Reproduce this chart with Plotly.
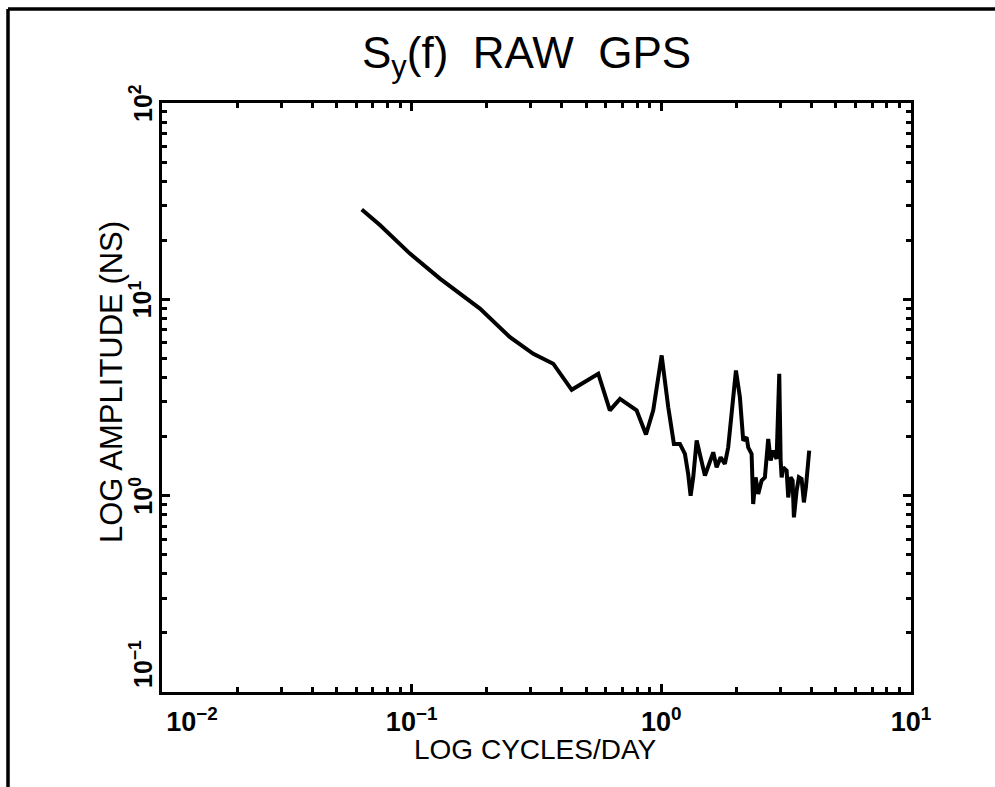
import math
import plotly.graph_objects as go

# Frequency (cycles/day) and amplitude (ns)
freq = [0.0631, 0.0746, 0.0984, 0.1298, 0.1877, 0.2476, 0.307, 0.369, 0.4375, 0.559,
        0.622, 0.683, 0.796, 0.868, 0.928, 1.003, 1.066, 1.123, 1.187, 1.243,
        1.281, 1.310, 1.342, 1.385, 1.495, 1.614, 1.665, 1.728, 1.797, 1.853,
        1.990, 2.064, 2.128, 2.196, 2.228, 2.299, 2.333, 2.386, 2.444, 2.522,
        2.599, 2.680, 2.740, 2.806, 2.895, 2.967, 3.005, 3.033, 3.078, 3.176,
        3.223, 3.295, 3.356, 3.396, 3.482, 3.557, 3.646, 3.724, 3.794, 3.911]
amp = [28.7, 23.9, 17.1, 12.75, 8.97, 6.42, 5.28, 4.70, 3.46, 4.18,
       2.72, 3.11, 2.72, 2.05, 2.72, 5.18, 2.82, 1.835, 1.835, 1.632,
       1.290, 1.00, 1.240, 1.909, 1.265, 1.663, 1.394, 1.568, 1.451, 1.763,
       4.34, 3.17, 1.909, 1.983, 1.763, 1.632, 0.907, 1.240, 1.020, 1.193,
       1.240, 1.946, 1.509, 1.696, 1.539, 4.18, 1.509, 1.240, 1.394, 1.342,
       0.980, 1.240, 1.193, 0.775, 1.060, 1.240, 1.217, 0.924, 1.102, 1.696]

x_major = [0.01, 0.1, 1, 10]
x_major_text = ["        <b>10<sup>−2</sup></b>", "<b>10<sup>−1</sup></b>",
                "<b>10<sup>0</sup></b>", "<b>10<sup>1</sup></b>"]
y_major = [0.1, 1, 10, 100]
y_major_text = ["<b>10<sup>−1</sup></b>", "<b>10<sup>0</sup></b>",
                "<b>10<sup>1</sup></b>", "<b>10<sup>2</sup></b>"]
y_label_shift = [28, 0, 0, 0]

title_text = "S<sub>y</sub>(f)  RAW  GPS"
x_title = "LOG CYCLES/DAY"
y_title = "LOG AMPLITUDE (NS)"


def minor_vals(lo_exp, hi_exp):
    vals = []
    for e in range(lo_exp, hi_exp):
        for m in range(2, 10):
            vals.append(m * 10 ** e)
    return vals


FONT = "Liberation Sans, Arial, sans-serif"

fig = go.Figure()
fig.add_trace(go.Scatter(x=freq, y=amp, mode="lines",
                         line=dict(color="black", width=4),
                         showlegend=False, hoverinfo="x+y"))

axis_common = dict(type="log", showgrid=False, zeroline=False,
                   showline=True, linecolor="black", linewidth=3,
                   mirror="allticks", ticks="inside", ticklen=8, tickwidth=2.5,
                   tickcolor="black", tickmode="array")

fig.update_xaxes(**axis_common, range=[-2, 1], tickvals=x_major, ticktext=x_major_text,
                 ticklabelstandoff=4,
                 tickfont=dict(family=FONT, size=27, color="black"),
                 minor=dict(tickmode="array", tickvals=minor_vals(-2, 1), ticks="inside",
                            ticklen=5, tickwidth=2.5, tickcolor="black"))
fig.update_yaxes(**axis_common, range=[-1, 2], tickvals=y_major, showticklabels=False,
                 minor=dict(tickmode="array", tickvals=minor_vals(-1, 2), ticks="inside",
                            ticklen=5, tickwidth=2.5, tickcolor="black"))

# outer page frame lines (left and top)
W, H = 995, 787
L, R, T, B = 162, 84, 103, 95
pw, ph = W - L - R, H - T - B


def px(x):
    return (x - L) / pw


def py(y):
    return (H - B - y) / ph


fig.add_shape(type="line", xref="paper", yref="paper", x0=px(8), x1=px(8), y0=py(9), y1=py(787),
              line=dict(color="black", width=3.5))
fig.add_shape(type="line", xref="paper", yref="paper", x0=px(8), x1=px(995), y0=py(9), y1=py(9),
              line=dict(color="black", width=3.5))

# rotated y tick labels
for v, t, s in zip(y_major, y_major_text, y_label_shift):
    fig.add_annotation(text=t, xref="paper", yref="y", x=px(141), y=math.log10(v),
                       yshift=s, textangle=-90, showarrow=False,
                       font=dict(family=FONT, size=25, color="black"),
                       xanchor="center", yanchor="middle")

fig.add_annotation(text=title_text, xref="paper", yref="paper", x=px(526), y=py(56),
                   showarrow=False, font=dict(family=FONT, size=44, color="black"),
                   xanchor="center", yanchor="middle")
fig.add_annotation(text=x_title, xref="paper", yref="paper", x=px(535), y=py(749),
                   showarrow=False, font=dict(family=FONT, size=28, color="black"),
                   xanchor="center", yanchor="middle")
fig.add_annotation(text=y_title, xref="paper", yref="paper", x=px(111), y=py(382),
                   textangle=-90, showarrow=False,
                   font=dict(family=FONT, size=31, color="black"),
                   xanchor="center", yanchor="middle")

fig.update_layout(width=W, height=H, margin=dict(l=L, r=R, t=T, b=B),
                  plot_bgcolor="white", paper_bgcolor="white")

fig.write_html("out.html")
